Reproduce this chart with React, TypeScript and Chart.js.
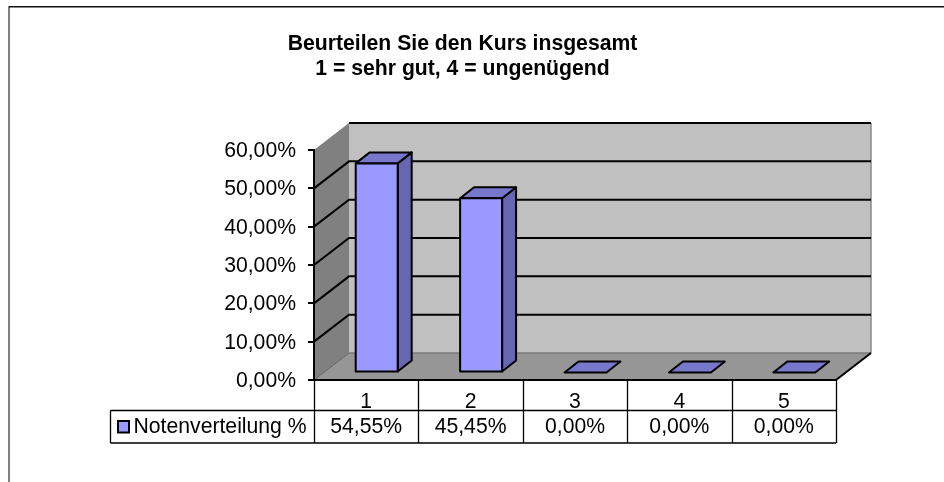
import React, { useEffect, useRef } from "react";
import { Chart, registerables } from "chart.js";

Chart.register(...registerables);

const categories = ["1", "2", "3", "4", "5"];
const seriesName = "Notenverteilung %";
const seriesValues = [54.55, 45.45, 0, 0, 0];
const titleLines = ["Beurteilen Sie den Kurs insgesamt", "1 = sehr gut, 4 = ungenügend"];

const FONT = "'Liberation Sans', Arial, sans-serif";
const TEXT_SIZE = 21.2;
const TITLE_SIZE = 21.2;
const fmt = (v: number) => v.toFixed(2).replace(".", ",") + "%";

// 3D projection of the Excel style chart
const WALL_DX = 35;
const WALL_DY = -27;
const BAR_SHIFT_X = 10.5;
const BAR_SHIFT_Y = -7.5;
const BAR_DX = 14;
const BAR_DY = -11;

const poly = (ctx: CanvasRenderingContext2D, pts: number[][]) => {
  ctx.beginPath();
  pts.forEach((p, i) => (i ? ctx.lineTo(p[0], p[1]) : ctx.moveTo(p[0], p[1])));
  ctx.closePath();
};

const scenePlugin = {
  id: "scene",
  beforeDraw(chart: any) {
    const ctx = chart.ctx as CanvasRenderingContext2D;
    ctx.save();
    ctx.fillStyle = "#fff";
    ctx.fillRect(0, 0, chart.width, chart.height);
    ctx.fillStyle = "#808080";
    ctx.fillRect(8, 6, 2, chart.height - 6);
    ctx.fillStyle = "#111";
    ctx.fillRect(9, 6, chart.width - 9, 1.5);
    ctx.restore();
  },
  afterLayout(chart: any) {
    const t = chart.titleBlock;
    if (t) {
      t.left = 0;
      t.right = 925;
    }
  },
  beforeDatasetsDraw(chart: any) {
    const ctx = chart.ctx as CanvasRenderingContext2D;
    const { left, right, top, bottom } = chart.chartArea;
    const y = chart.scales.y;
    ctx.save();
    // back wall
    ctx.fillStyle = "#C0C0C0";
    ctx.fillRect(left + WALL_DX, top + WALL_DY, right - left, bottom - top);
    ctx.strokeStyle = "#8a8a8a";
    ctx.lineWidth = 1.5;
    ctx.beginPath();
    ctx.moveTo(right + WALL_DX, top + WALL_DY);
    ctx.lineTo(right + WALL_DX, bottom + WALL_DY);
    ctx.stroke();
    // side wall
    poly(ctx, [
      [left, top],
      [left + WALL_DX, top + WALL_DY],
      [left + WALL_DX, bottom + WALL_DY],
      [left, bottom],
    ]);
    ctx.fillStyle = "#808080";
    ctx.fill();
    // floor
    poly(ctx, [
      [left, bottom],
      [right, bottom],
      [right + WALL_DX, bottom + WALL_DY],
      [left + WALL_DX, bottom + WALL_DY],
    ]);
    ctx.fillStyle = "#969696";
    ctx.fill();
    ctx.strokeStyle = "#7a7a7a";
    ctx.lineWidth = 1.5;
    ctx.beginPath();
    ctx.moveTo(left + WALL_DX, bottom + WALL_DY);
    ctx.lineTo(right + WALL_DX, bottom + WALL_DY);
    ctx.stroke();
    ctx.strokeStyle = "#606060";
    ctx.lineWidth = 1;
    ctx.beginPath();
    ctx.moveTo(left, bottom);
    ctx.lineTo(left + WALL_DX, bottom + WALL_DY);
    ctx.stroke();
    ctx.strokeStyle = "#000";
    ctx.lineWidth = 2;
    ctx.beginPath();
    ctx.moveTo(right, bottom);
    ctx.lineTo(right + WALL_DX, bottom + WALL_DY);
    ctx.stroke();
    // gridlines on both walls
    y.ticks.forEach((tick: any) => {
      if (tick.value === 0) return;
      const py = y.getPixelForValue(tick.value);
      ctx.beginPath();
      if (tick.value === y.max) {
        ctx.moveTo(left + WALL_DX, py + WALL_DY);
      } else {
        ctx.moveTo(left, py);
        ctx.lineTo(left + WALL_DX, py + WALL_DY);
      }
      ctx.lineTo(right + WALL_DX, py + WALL_DY);
      ctx.strokeStyle = "#000";
      ctx.lineWidth = 2;
      ctx.stroke();
    });
    ctx.restore();

    // data table
    const x = chart.scales.x;
    const rowA = bottom + 30.5;
    const rowB = bottom + 63;
    const legendLeft = 110.5;
    ctx.save();
    ctx.strokeStyle = "#000";
    ctx.lineWidth = 1.3;
    ctx.beginPath();
    ctx.moveTo(legendLeft, rowA);
    ctx.lineTo(right, rowA);
    ctx.moveTo(legendLeft, rowB);
    ctx.lineTo(right, rowB);
    ctx.moveTo(legendLeft, rowA);
    ctx.lineTo(legendLeft, rowB);
    const step = (right - left) / categories.length;
    for (let i = 0; i <= categories.length; i++) {
      const cx = Math.round(left + i * step) + 0.5;
      ctx.moveTo(cx, bottom);
      ctx.lineTo(cx, rowB);
    }
    ctx.stroke();
    // legend key + name
    ctx.fillStyle = "#9999FF";
    ctx.fillRect(118, 421, 11, 11.5);
    ctx.lineWidth = 2;
    ctx.strokeRect(118, 421, 11, 11.5);
    ctx.fillStyle = "#000";
    ctx.font = `${TEXT_SIZE}px ${FONT}`;
    ctx.textBaseline = "middle";
    ctx.textAlign = "left";
    ctx.fillText(seriesName, 133.5, (rowA + rowB) / 2 + 0.5);
    ctx.textAlign = "center";
    seriesValues.forEach((v, i) => {
      ctx.fillText(fmt(v), x.getPixelForTick(i), (rowA + rowB) / 2 + 0.5);
    });
    ctx.restore();
  },
  beforeDatasetDraw(chart: any, args: any) {
    const ctx = chart.ctx as CanvasRenderingContext2D;
    ctx.save();
    ctx.translate(BAR_SHIFT_X, BAR_SHIFT_Y);
    ctx.strokeStyle = "#000";
    ctx.lineWidth = 2;
    ctx.lineJoin = "round";
    args.meta.data.forEach((bar: any) => {
      const { x, y, base, width } = bar.getProps(["x", "y", "base", "width"]);
      const l = x - width / 2;
      const r = x + width / 2;
      if (base - y > 0.5) {
        poly(ctx, [
          [r, y],
          [r + BAR_DX, y + BAR_DY],
          [r + BAR_DX, base + BAR_DY],
          [r, base],
        ]);
        ctx.fillStyle = "#6666B3";
        ctx.fill();
        ctx.stroke();
      }
      poly(ctx, [
        [l, y],
        [r, y],
        [r + BAR_DX, y + BAR_DY],
        [l + BAR_DX, y + BAR_DY],
      ]);
      ctx.fillStyle = "#7777CC";
      ctx.fill();
      ctx.stroke();
    });
  },
  afterDatasetDraw(chart: any, args: any) {
    const ctx = chart.ctx as CanvasRenderingContext2D;
    // outline of the front faces, centred on the bar's edge
    args.meta.data.forEach((bar: any) => {
      const { x, y, base, width } = bar.getProps(["x", "y", "base", "width"]);
      if (base - y > 0.5) ctx.strokeRect(x - width / 2, y, width, base - y);
    });
    ctx.restore();
  },
};

export default function App() {
  const ref = useRef<HTMLCanvasElement>(null);
  useEffect(() => {
    const chart = new Chart(ref.current as HTMLCanvasElement, {
      type: "bar",
      data: {
        labels: categories,
        datasets: [
          {
            label: seriesName,
            data: seriesValues,
            backgroundColor: "#9999FF",
            borderWidth: 0,
            barPercentage: 0.402,
            categoryPercentage: 1,
            clip: false as any,
          },
        ],
      },
      plugins: [scenePlugin as any],
      options: {
        responsive: false,
        animation: false,
        layout: { padding: { left: 0, right: 108, top: 0, bottom: 0 } },
        plugins: {
          legend: { display: false },
          tooltip: { enabled: false },
          title: {
            display: true,
            text: titleLines,
            color: "#000",
            font: { family: FONT, size: TITLE_SIZE, weight: "bold", lineHeight: 25 / TITLE_SIZE },
            padding: { top: 31.5, bottom: 68.5 },
          },
        },
        scales: {
          x: {
            offset: true,
            grid: { display: false, z: 1 },
            border: { display: true, color: "#000", width: 2, z: 1 },
            ticks: {
              z: 1,
              color: "#000",
              padding: 1,
              autoSkip: false,
              maxRotation: 0,
              font: { family: FONT, size: TEXT_SIZE },
            },
            afterFit(scale: any) {
              scale.height = 102;
            },
          },
          y: {
            min: 0,
            max: 60,
            grid: { drawOnChartArea: false, drawTicks: true, tickLength: 6, color: "#000", lineWidth: 2, z: 1 },
            border: { display: true, color: "#000", width: 2, z: 1 },
            ticks: {
              z: 1,
              stepSize: 10,
              color: "#000",
              padding: 12,
              labelOffset: 1,
              font: { family: FONT, size: TEXT_SIZE },
              callback: (v: any) => fmt(Number(v)),
            },
            afterFit(scale: any) {
              scale.width = 314;
            },
          },
        },
      },
    });
    return () => chart.destroy();
  }, []);
  return (
    <canvas
      ref={ref}
      width={944}
      height={482}
      style={{ position: "absolute", left: 0, top: 0, display: "block", width: 944, height: 482 }}
    />
  );
}
